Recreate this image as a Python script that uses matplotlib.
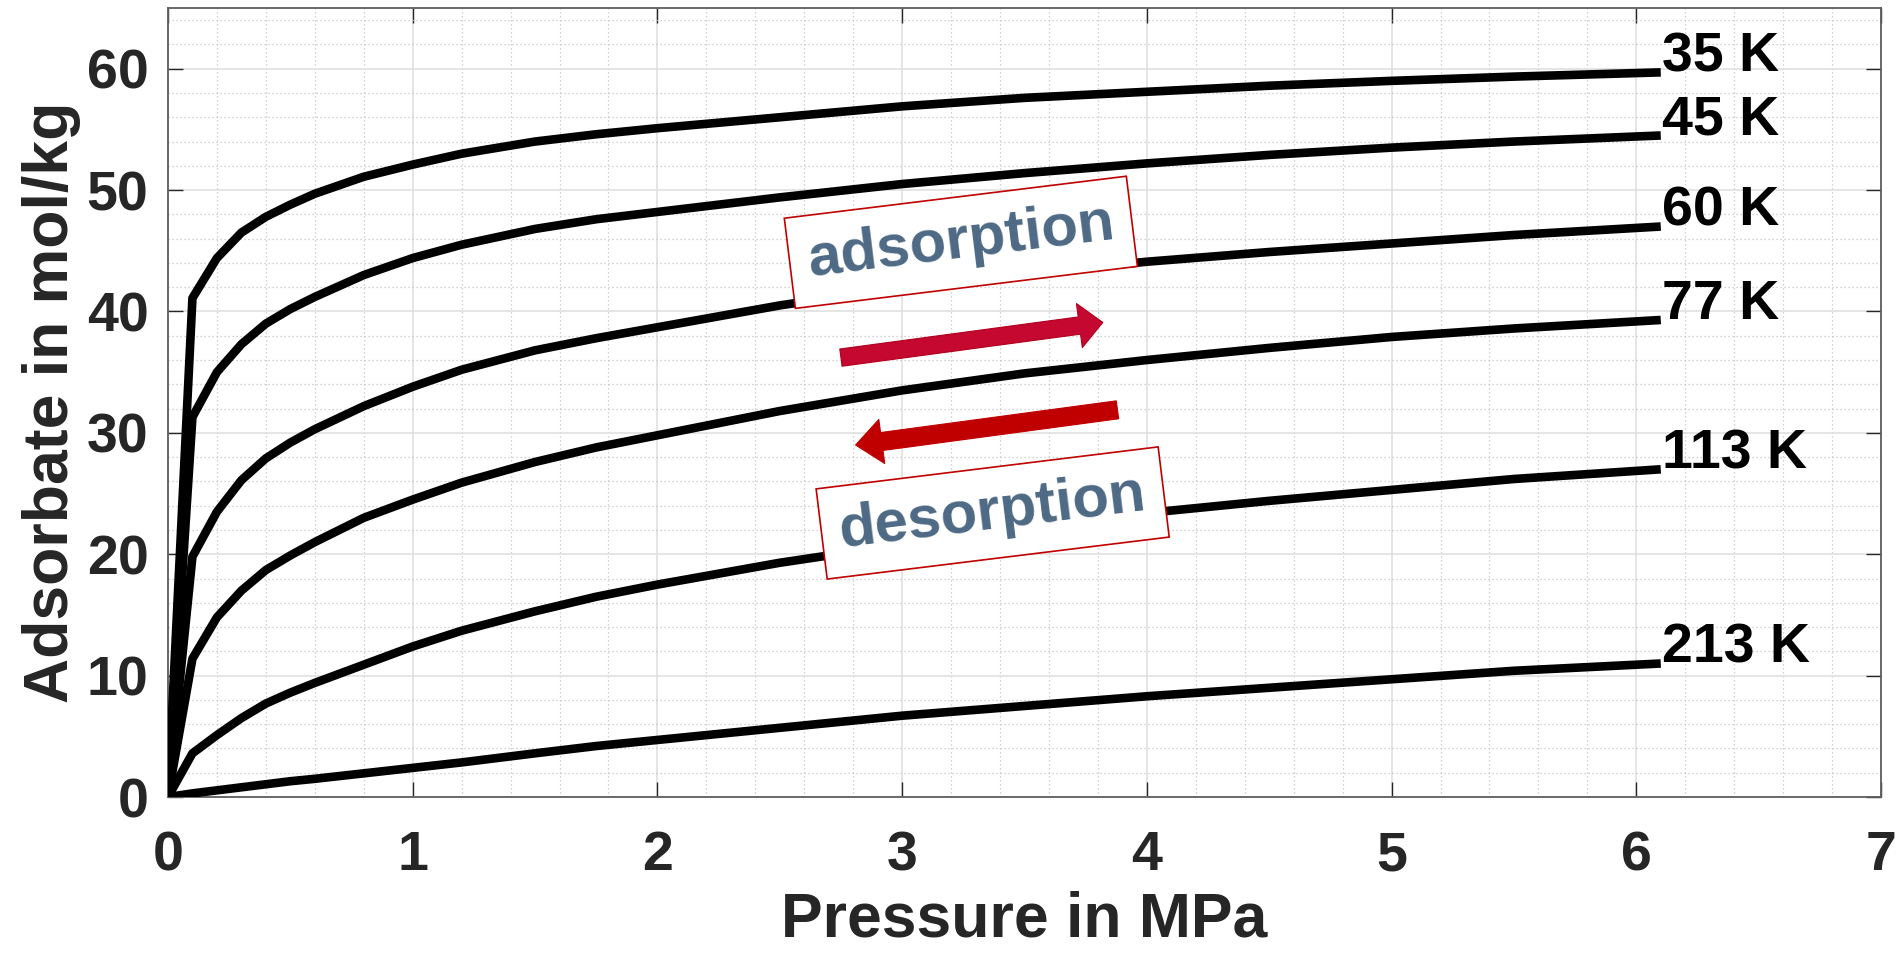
import matplotlib
matplotlib.use("Agg")
import matplotlib.pyplot as plt
from matplotlib.patches import FancyArrowPatch
from matplotlib.ticker import MultipleLocator

plt.rcParams['font.family'] = ['Liberation Sans', 'DejaVu Sans']
plt.rcParams['font.weight'] = 'bold'

# Pressure grid (MPa) shared by all isotherms
pressure = [0, 0.1, 0.2, 0.3, 0.4, 0.5, 0.6, 0.8, 1.0, 1.2, 1.5, 1.75, 2.0,
            2.5, 3.0, 3.5, 4.0, 4.5, 5.0, 5.5, 6.1]

# Adsorbate loading (mol/kg) at each temperature
q_35K = [0, 41.1, 44.4, 46.5, 47.8, 48.8, 49.7, 51.1, 52.1, 53.0, 54.0, 54.6,
         55.1, 56.0, 56.9, 57.6, 58.1, 58.6, 59.0, 59.35, 59.7]
q_45K = [0, 31.3, 35.0, 37.3, 39.0, 40.2, 41.2, 43.0, 44.4, 45.5, 46.8, 47.6,
         48.2, 49.4, 50.5, 51.4, 52.2, 52.9, 53.5, 54.0, 54.5]
q_60K = [0, 19.8, 23.5, 26.1, 27.9, 29.2, 30.3, 32.2, 33.8, 35.2, 36.8, 37.8,
         38.7, 40.5, 42.0, 43.1, 44.1, 44.9, 45.6, 46.3, 47.0]
q_77K = [0, 11.4, 14.8, 17.0, 18.7, 19.9, 21.0, 23.0, 24.5, 25.9, 27.6, 28.8,
         29.8, 31.8, 33.5, 34.9, 36.0, 37.0, 37.9, 38.6, 39.3]
q_113K = [0, 3.6, 5.1, 6.5, 7.7, 8.6, 9.4, 10.9, 12.4, 13.7, 15.3, 16.5,
          17.5, 19.3, 20.8, 22.2, 23.4, 24.4, 25.3, 26.2, 27.0]
q_213K = [0, 0.3, 0.55, 0.8, 1.05, 1.3, 1.5, 1.95, 2.4, 2.85, 3.6, 4.2,
          4.7, 5.7, 6.7, 7.5, 8.3, 9.0, 9.7, 10.4, 11.0]

temperature_labels = ['35 K', '45 K', '60 K', '77 K', '113 K', '213 K']
isotherms = [q_35K, q_45K, q_60K, q_77K, q_113K, q_213K]

x_ticks = [0, 1, 2, 3, 4, 5, 6, 7]
y_ticks = [0, 10, 20, 30, 40, 50, 60]

TEXT_DARK = '#262626'
BOX_TEXT = '#4d6984'

fig = plt.figure(figsize=(19.0, 9.56), dpi=100)
ax = fig.add_axes([0.0884, 0.1663, 0.9016, 0.8253])

for q, lab in zip(isotherms, temperature_labels):
    ax.plot(pressure, q, color='black', lw=6.2, solid_joinstyle='round',
            solid_capstyle='butt', zorder=3)
    ax.text(pressure[-1] + 0.005, q[-1] + 0.1, lab, fontsize=40,
            fontweight='bold', color='black', ha='left', va='baseline',
            zorder=5)

ax.set_xlim(0, 7)
ax.set_ylim(0, 65)
ax.set_xticks(x_ticks)
ax.set_yticks(y_ticks)
ax.xaxis.set_minor_locator(MultipleLocator(0.2))
ax.yaxis.set_minor_locator(MultipleLocator(2))

ax.grid(which='major', color='#dedede', lw=1.1, ls='-', zorder=0)
ax.grid(which='minor', color='#c4c4c4', lw=0.9, ls=(0, (1, 2.2)), zorder=0)
ax.set_axisbelow(True)

ax.tick_params(which='major', direction='in', length=11, width=1.0,
               color=TEXT_DARK, top=True, right=True,
               labelsize=40, labelcolor=TEXT_DARK)
ax.tick_params(which='minor', length=0)
ax.tick_params(axis='x', pad=24)
ax.tick_params(axis='y', pad=14)
for lbl in ax.get_xticklabels() + ax.get_yticklabels():
    lbl.set_fontweight('bold')

for sp in ax.spines.values():
    sp.set_color('#5e5e5e')
    sp.set_linewidth(1.3)

ax.set_xlabel('Pressure in MPa', fontsize=45, fontweight='bold',
              color=TEXT_DARK)
ax.set_ylabel('Adsorbate in mol/kg', fontsize=45, fontweight='bold',
              color=TEXT_DARK)
ax.xaxis.set_label_coords(0.5, -0.118)
ax.yaxis.set_label_coords(-0.051, 0.5)

# Process annotations
box_style = dict(boxstyle='square,pad=0.3', facecolor='white',
                 edgecolor='#c00000', linewidth=1.2)
ax.text(3.24, 45.7, 'adsorption', fontsize=43, fontweight='bold',
        color=BOX_TEXT, rotation=7, rotation_mode='anchor',
        ha='center', va='center', bbox=box_style, zorder=6)
ax.text(3.37, 23.4, 'desorption', fontsize=43, fontweight='bold',
        color=BOX_TEXT, rotation=7, rotation_mode='anchor',
        ha='center', va='center', bbox=box_style, zorder=6)

ads_arrow = FancyArrowPatch((2.75, 36.2), (3.82, 39.1),
                            arrowstyle='simple,head_length=17,head_width=32,tail_width=12.5',
                            mutation_scale=1, facecolor='#c4082f',
                            edgecolor='#b0001e', linewidth=0.8,
                            shrinkA=0, shrinkB=0, zorder=6)
des_arrow = FancyArrowPatch((3.88, 31.9), (2.81, 29.0),
                            arrowstyle='simple,head_length=19,head_width=32,tail_width=13',
                            mutation_scale=1, facecolor='#c00000',
                            edgecolor='#c00000', linewidth=0.8,
                            shrinkA=0, shrinkB=0, zorder=6)
ax.add_patch(ads_arrow)
ax.add_patch(des_arrow)

fig.savefig('out.png', dpi=100, facecolor='white')
